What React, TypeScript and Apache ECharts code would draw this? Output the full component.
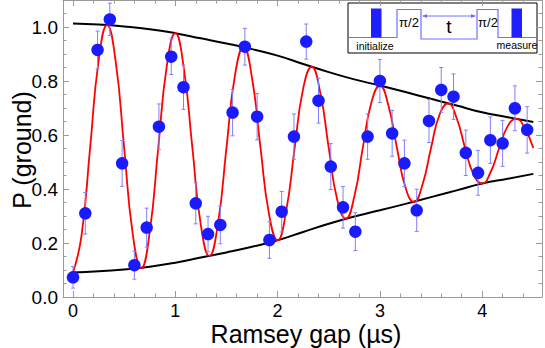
import React, { useEffect, useRef } from "react";
import * as echarts from "echarts";

// Measured data (Ramsey gap in µs, ground-state probability, error bar half-width)
const dataT = [0, 0.12, 0.24, 0.36, 0.48, 0.6, 0.72, 0.84, 0.96, 1.08, 1.2, 1.32, 1.44, 1.56, 1.68, 1.8, 1.92, 2.04, 2.16, 2.28, 2.4, 2.52, 2.64, 2.76, 2.88, 3.0, 3.12, 3.24, 3.36, 3.48, 3.6, 3.72, 3.84, 3.96, 4.08, 4.2, 4.32, 4.44];
const dataP = [0.073, 0.31, 0.915, 1.028, 0.495, 0.118, 0.257, 0.631, 0.89, 0.777, 0.347, 0.233, 0.267, 0.683, 0.927, 0.668, 0.211, 0.316, 0.594, 0.946, 0.727, 0.483, 0.332, 0.242, 0.594, 0.8, 0.606, 0.495, 0.321, 0.652, 0.767, 0.742, 0.534, 0.46, 0.581, 0.569, 0.699, 0.619];
const dataErr = [0.04, 0.077, 0.07, 0.06, 0.085, 0.052, 0.072, 0.084, 0.066, 0.082, 0.076, 0.066, 0.07, 0.086, 0.068, 0.086, 0.068, 0.075, 0.084, 0.065, 0.083, 0.085, 0.077, 0.07, 0.084, 0.08, 0.085, 0.086, 0.078, 0.08, 0.083, 0.084, 0.084, 0.083, 0.086, 0.085, 0.083, 0.086];

// Fit curve (red)
const fitT = [0, 0.083, 0.167, 0.25, 0.333, 0.417, 0.5, 0.583, 0.667, 0.75, 0.833, 0.917, 1.0, 1.083, 1.167, 1.25, 1.333, 1.417, 1.5, 1.583, 1.667, 1.75, 1.833, 1.917, 2.0, 2.083, 2.167, 2.25, 2.333, 2.417, 2.5, 2.583, 2.667, 2.75, 2.833, 2.917, 3.0, 3.083, 3.167, 3.25, 3.333, 3.417, 3.5, 3.583, 3.667, 3.75, 3.833, 3.917, 4.0, 4.083, 4.167, 4.25, 4.333, 4.417, 4.5];
const fitP = [0.091, 0.227, 0.552, 0.875, 1.007, 0.872, 0.552, 0.236, 0.107, 0.241, 0.552, 0.856, 0.977, 0.848, 0.552, 0.265, 0.152, 0.273, 0.552, 0.821, 0.926, 0.811, 0.552, 0.305, 0.21, 0.317, 0.552, 0.772, 0.852, 0.757, 0.552, 0.36, 0.29, 0.372, 0.552, 0.72, 0.783, 0.71, 0.552, 0.406, 0.352, 0.417, 0.552, 0.675, 0.717, 0.663, 0.552, 0.453, 0.42, 0.463, 0.552, 0.633, 0.66, 0.624, 0.552];

// Envelope curves (black)
const envT = [0, 0.25, 0.5, 0.75, 1.0, 1.25, 1.5, 1.75, 2.0, 2.25, 2.5, 2.75, 3.0, 3.25, 3.5, 3.75, 4.0, 4.25, 4.5];
const envUpper = [1.013, 1.009, 1.002, 0.992, 0.977, 0.958, 0.939, 0.918, 0.894, 0.863, 0.833, 0.806, 0.783, 0.759, 0.734, 0.709, 0.684, 0.666, 0.648];
const envLower = [0.091, 0.095, 0.102, 0.112, 0.127, 0.146, 0.165, 0.186, 0.21, 0.241, 0.271, 0.298, 0.321, 0.345, 0.37, 0.395, 0.42, 0.438, 0.456];

const xLabel = "Ramsey gap (µs)";
const yLabel = "P (ground)";

export default function App() {
  const ref = useRef<HTMLDivElement>(null);
  useEffect(() => {
    const chart = echarts.init(ref.current!, null, { renderer: "svg" });
    const font = "'Liberation Sans', Arial, Helvetica, sans-serif";
    const gray = "#9a9a9a";
    const pulse = "#7070ff";
    const bar = "#2020ff";

    const xBase = (pos: string, showLabel: boolean) => ({
      type: "value",
      position: pos,
      min: -0.098,
      max: 4.585,
      splitNumber: 5,
      axisLine: { show: true, onZero: false, lineStyle: { color: gray, width: 1 } },
      axisTick: { show: true, inside: true, length: 6, lineStyle: { color: gray } },
      minorTick: { show: true, splitNumber: 5, length: 3.5, lineStyle: { color: gray } },
      splitLine: { show: false },
      axisLabel: {
        show: showLabel,
        margin: 6,
        fontSize: 18,
        lineHeight: 15,
        color: "#000",
        fontFamily: font,
        formatter: (v: number) => (Math.abs(v - Math.round(v)) < 1e-6 ? String(Math.round(v)) : ""),
      },
    });
    const yBase = (pos: string, showLabel: boolean) => ({
      type: "value",
      position: pos,
      min: 0,
      max: 1.1,
      interval: 0.2,
      axisLine: { show: true, onZero: false, lineStyle: { color: gray, width: 1 } },
      axisTick: { show: true, inside: true, length: 6, lineStyle: { color: gray } },
      minorTick: { show: true, splitNumber: 4, length: 3.5, lineStyle: { color: gray } },
      splitLine: { show: false },
      axisLabel: {
        show: showLabel,
        margin: 5,
        fontSize: 19,
        color: "#000",
        fontFamily: font,
        formatter: (v: number) =>
          Math.abs(v * 5 - Math.round(v * 5)) < 1e-6 && v < 1.05 ? v.toFixed(1) : "",
      },
    });

    const inset = {
      type: "group",
      z: 100,
      children: [
        { type: "rect", shape: { x: 348, y: 3, width: 189, height: 50 }, style: { fill: "#fff", stroke: "#000", lineWidth: 1 } },
        {
          type: "polyline",
          shape: { points: [[349, 37.5], [397, 37.5], [397, 9.5], [421, 9.5], [421, 39], [477, 39], [477, 9.5], [498, 9.5], [498, 37.5], [536, 37.5]] },
          style: { stroke: pulse, lineWidth: 1.2, fill: null },
        },
        { type: "rect", shape: { x: 371, y: 8.5, width: 10.5, height: 29 }, style: { fill: bar } },
        { type: "rect", shape: { x: 511.5, y: 8.5, width: 10.5, height: 29 }, style: { fill: bar } },
        { type: "line", shape: { x1: 423, y1: 16, x2: 475, y2: 16 }, style: { stroke: pulse, lineWidth: 1 } },
        { type: "polygon", shape: { points: [[422, 16], [427, 14], [427, 18]] }, style: { fill: pulse } },
        { type: "polygon", shape: { points: [[476, 16], [471, 14], [471, 18]] }, style: { fill: pulse } },
        { type: "text", x: 409, y: 22, style: { text: "π/2", font: `13px ${font}`, fill: "#000", align: "center", verticalAlign: "middle" } },
        { type: "text", x: 488, y: 22, style: { text: "π/2", font: `13px ${font}`, fill: "#000", align: "center", verticalAlign: "middle" } },
        { type: "text", x: 449, y: 26, style: { text: "t", font: `19px ${font}`, fill: "#000", align: "center", verticalAlign: "middle" } },
        { type: "text", x: 375, y: 46, style: { text: "initialize", font: `10.5px ${font}`, fill: "#000", align: "center", verticalAlign: "middle" } },
        { type: "text", x: 517, y: 45, style: { text: "measure", font: `10.5px ${font}`, fill: "#000", align: "center", verticalAlign: "middle" } },
      ],
    };

    chart.setOption({
      animation: false,
      backgroundColor: "#fff",
      grid: { left: 63, right: 2, top: 0, bottom: 51, containLabel: false },
      xAxis: [xBase("bottom", true), xBase("top", false)],
      yAxis: [yBase("left", true), yBase("right", false)],
      graphic: [
        {
          type: "text",
          x: 306,
          y: 334,
          style: { text: xLabel, font: `25px ${font}`, lineHeight: 24, fill: "#000", align: "center", verticalAlign: "middle" },
        },
        {
          type: "text",
          x: 22,
          y: 150,
          rotation: Math.PI / 2,
          style: { text: yLabel, font: `25px ${font}`, fill: "#000", align: "center", verticalAlign: "middle" },
        },
        inset,
      ],
      series: [
        {
          type: "line",
          data: envT.map((t, i) => [t, envUpper[i]]),
          smooth: true,
          showSymbol: false,
          lineStyle: { color: "#000", width: 2 },
          z: 2,
        },
        {
          type: "line",
          data: envT.map((t, i) => [t, envLower[i]]),
          smooth: true,
          showSymbol: false,
          lineStyle: { color: "#000", width: 2 },
          z: 2,
        },
        {
          type: "line",
          data: fitT.map((t, i) => [t, fitP[i]]),
          smooth: 0.5,
          showSymbol: false,
          lineStyle: { color: "#ff0000", width: 1.8 },
          z: 3,
        },
        {
          type: "custom",
          data: dataT.map((t, i) => [t, dataP[i] - dataErr[i], dataP[i] + dataErr[i]]),
          encode: { x: 0, y: [1, 2] },
          z: 4,
          renderItem: (params: any, api: any) => {
            const x = api.value(0);
            const p1 = api.coord([x, api.value(1)]);
            const p2 = api.coord([x, api.value(2)]);
            const c = 2;
            const st = { stroke: "#8080ff", lineWidth: 1 };
            return {
              type: "group",
              children: [
                { type: "line", shape: { x1: p1[0], y1: p1[1], x2: p2[0], y2: p2[1] }, style: st },
                { type: "line", shape: { x1: p1[0] - c, y1: p1[1], x2: p1[0] + c, y2: p1[1] }, style: st },
                { type: "line", shape: { x1: p2[0] - c, y1: p2[1], x2: p2[0] + c, y2: p2[1] }, style: st },
              ],
            };
          },
        },
        {
          type: "scatter",
          data: dataT.map((t, i) => [t, dataP[i]]),
          symbolSize: 12.5,
          itemStyle: { color: "#1a1aff", opacity: 1 },
          z: 5,
        },
      ],
    });
    return () => chart.dispose();
  }, []);
  return <div ref={ref} style={{ position: "absolute", left: 0, top: 0, width: 545, height: 348 }} />;
}
